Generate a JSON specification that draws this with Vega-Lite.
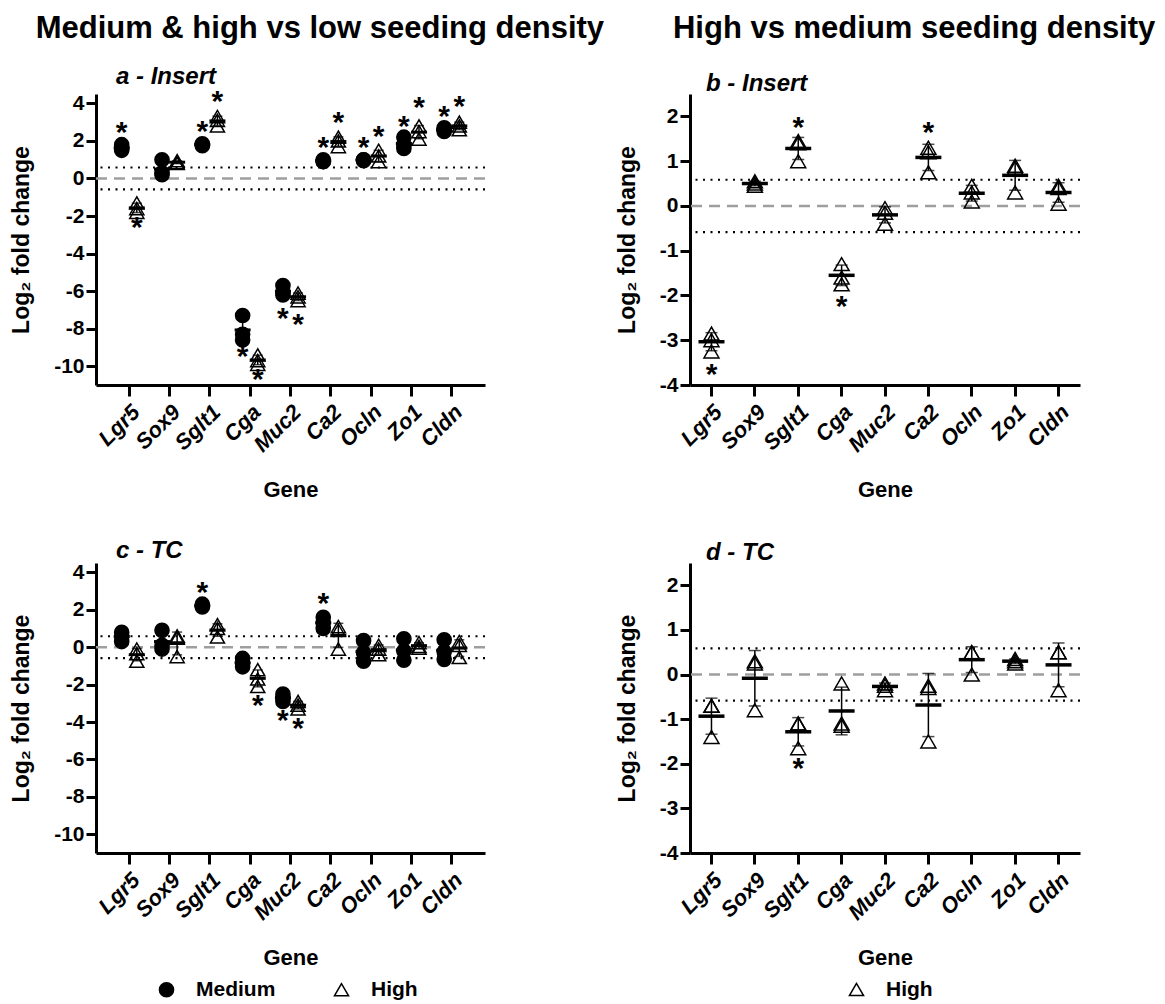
{
  "$schema": "https://vega.github.io/schema/vega-lite/v6.json",
  "padding": {"left": 10, "top": 12, "right": 5, "bottom": 5},
  "background": "white",
  "title": {"text": "Medium & high vs low seeding density\u00a0\u00a0\u00a0\u00a0\u00a0\u00a0\u00a0\u00a0High vs medium seeding density", "fontSize": 31, "fontWeight": "bold", "anchor": "start", "frame": "bounds", "dx": 25, "offset": 20, "color": "black"},
  "config": {
    "font": "Liberation Sans",
    "view": {"stroke": null},
    "axis": {
      "grid": false,
      "domainColor": "black",
      "domainWidth": 3,
      "tickColor": "black",
      "tickWidth": 3,
      "tickSize": 10,
      "labelFont": "Liberation Sans",
      "labelFontSize": 21,
      "labelFontWeight": "bold",
      "labelColor": "black",
      "titleFont": "Liberation Sans",
      "titleFontSize": 23,
      "titleFontWeight": "bold",
      "titleColor": "black",
      "labelExpr": "replace(datum.label, '−', '-')"
    },
    "axisX": {"labelAngle": -45, "labelFontStyle": "italic", "labelFontSize": 22, "tickSize": 11, "labelPadding": 5, "titlePadding": 24, "titleFontSize": 22},
    "axisY": {"titlePadding": 20, "labelPadding": 2},
    "legend": {
      "orient": "none",
      "direction": "horizontal",
      "labelFontSize": 21,
      "labelFontWeight": "bold",
      "labelColor": "black",
      "labelFont": "Liberation Sans",
      "symbolSize": 200,
      "symbolStrokeColor": "black",
      "symbolStrokeWidth": 1.5,
      "columnPadding": 55,
      "labelOffset": 19
    },
    "title": {"color": "black", "font": "Liberation Sans"}
  },
  "datasets": {
    "pts": [
      {"p":"a","gene":"Lgr5","group":"Medium","v":1.8},{"p":"a","gene":"Lgr5","group":"Medium","v":1.6},{"p":"a","gene":"Lgr5","group":"Medium","v":1.5},
      {"p":"a","gene":"Lgr5","group":"High","v":-1.3},{"p":"a","gene":"Lgr5","group":"High","v":-1.6},{"p":"a","gene":"Lgr5","group":"High","v":-1.8},
      {"p":"a","gene":"Sox9","group":"Medium","v":1.0},{"p":"a","gene":"Sox9","group":"Medium","v":0.3},{"p":"a","gene":"Sox9","group":"Medium","v":0.2},
      {"p":"a","gene":"Sox9","group":"High","v":0.95},{"p":"a","gene":"Sox9","group":"High","v":0.85},{"p":"a","gene":"Sox9","group":"High","v":0.8},
      {"p":"a","gene":"Sglt1","group":"Medium","v":1.85},{"p":"a","gene":"Sglt1","group":"Medium","v":1.8},{"p":"a","gene":"Sglt1","group":"Medium","v":1.75},
      {"p":"a","gene":"Sglt1","group":"High","v":3.3},{"p":"a","gene":"Sglt1","group":"High","v":3.1},{"p":"a","gene":"Sglt1","group":"High","v":2.8},
      {"p":"a","gene":"Cga","group":"Medium","v":-7.3},{"p":"a","gene":"Cga","group":"Medium","v":-8.3},{"p":"a","gene":"Cga","group":"Medium","v":-8.6},
      {"p":"a","gene":"Cga","group":"High","v":-9.4},{"p":"a","gene":"Cga","group":"High","v":-9.7},{"p":"a","gene":"Cga","group":"High","v":-9.9},
      {"p":"a","gene":"Muc2","group":"Medium","v":-5.7},{"p":"a","gene":"Muc2","group":"Medium","v":-6.1},{"p":"a","gene":"Muc2","group":"Medium","v":-6.2},
      {"p":"a","gene":"Muc2","group":"High","v":-6.1},{"p":"a","gene":"Muc2","group":"High","v":-6.3},{"p":"a","gene":"Muc2","group":"High","v":-6.5},
      {"p":"a","gene":"Ca2","group":"Medium","v":1.0},{"p":"a","gene":"Ca2","group":"Medium","v":0.9},{"p":"a","gene":"Ca2","group":"Medium","v":0.9},
      {"p":"a","gene":"Ca2","group":"High","v":2.2},{"p":"a","gene":"Ca2","group":"High","v":2.0},{"p":"a","gene":"Ca2","group":"High","v":1.7},
      {"p":"a","gene":"Ocln","group":"Medium","v":1.0},{"p":"a","gene":"Ocln","group":"Medium","v":1.0},{"p":"a","gene":"Ocln","group":"Medium","v":0.95},
      {"p":"a","gene":"Ocln","group":"High","v":1.5},{"p":"a","gene":"Ocln","group":"High","v":1.2},{"p":"a","gene":"Ocln","group":"High","v":0.9},
      {"p":"a","gene":"Zo1","group":"Medium","v":2.2},{"p":"a","gene":"Zo1","group":"Medium","v":1.8},{"p":"a","gene":"Zo1","group":"Medium","v":1.6},
      {"p":"a","gene":"Zo1","group":"High","v":2.8},{"p":"a","gene":"Zo1","group":"High","v":2.5},{"p":"a","gene":"Zo1","group":"High","v":2.1},
      {"p":"a","gene":"Cldn","group":"Medium","v":2.7},{"p":"a","gene":"Cldn","group":"Medium","v":2.6},{"p":"a","gene":"Cldn","group":"Medium","v":2.5},
      {"p":"a","gene":"Cldn","group":"High","v":3.0},{"p":"a","gene":"Cldn","group":"High","v":2.8},{"p":"a","gene":"Cldn","group":"High","v":2.6},

      {"p":"b","gene":"Lgr5","group":"High","v":-2.85},{"p":"b","gene":"Lgr5","group":"High","v":-3.0},{"p":"b","gene":"Lgr5","group":"High","v":-3.25},
      {"p":"b","gene":"Sox9","group":"High","v":0.45},{"p":"b","gene":"Sox9","group":"High","v":0.55},{"p":"b","gene":"Sox9","group":"High","v":0.5},
      {"p":"b","gene":"Sglt1","group":"High","v":1.4},{"p":"b","gene":"Sglt1","group":"High","v":1.45},{"p":"b","gene":"Sglt1","group":"High","v":1.0},
      {"p":"b","gene":"Cga","group":"High","v":-1.3},{"p":"b","gene":"Cga","group":"High","v":-1.6},{"p":"b","gene":"Cga","group":"High","v":-1.75},
      {"p":"b","gene":"Muc2","group":"High","v":-0.05},{"p":"b","gene":"Muc2","group":"High","v":-0.15},{"p":"b","gene":"Muc2","group":"High","v":-0.4},
      {"p":"b","gene":"Ca2","group":"High","v":1.3},{"p":"b","gene":"Ca2","group":"High","v":1.2},{"p":"b","gene":"Ca2","group":"High","v":0.75},
      {"p":"b","gene":"Ocln","group":"High","v":0.45},{"p":"b","gene":"Ocln","group":"High","v":0.3},{"p":"b","gene":"Ocln","group":"High","v":0.1},
      {"p":"b","gene":"Zo1","group":"High","v":0.85},{"p":"b","gene":"Zo1","group":"High","v":0.9},{"p":"b","gene":"Zo1","group":"High","v":0.3},
      {"p":"b","gene":"Cldn","group":"High","v":0.4},{"p":"b","gene":"Cldn","group":"High","v":0.45},{"p":"b","gene":"Cldn","group":"High","v":0.05},

      {"p":"c","gene":"Lgr5","group":"Medium","v":0.8},{"p":"c","gene":"Lgr5","group":"Medium","v":0.6},{"p":"c","gene":"Lgr5","group":"Medium","v":0.3},
      {"p":"c","gene":"Lgr5","group":"High","v":-0.1},{"p":"c","gene":"Lgr5","group":"High","v":-0.35},{"p":"c","gene":"Lgr5","group":"High","v":-0.75},
      {"p":"c","gene":"Sox9","group":"Medium","v":0.9},{"p":"c","gene":"Sox9","group":"Medium","v":0.1},{"p":"c","gene":"Sox9","group":"Medium","v":-0.1},
      {"p":"c","gene":"Sox9","group":"High","v":0.6},{"p":"c","gene":"Sox9","group":"High","v":0.5},{"p":"c","gene":"Sox9","group":"High","v":-0.5},
      {"p":"c","gene":"Sglt1","group":"Medium","v":2.3},{"p":"c","gene":"Sglt1","group":"Medium","v":2.2},{"p":"c","gene":"Sglt1","group":"Medium","v":2.15},
      {"p":"c","gene":"Sglt1","group":"High","v":1.2},{"p":"c","gene":"Sglt1","group":"High","v":1.0},{"p":"c","gene":"Sglt1","group":"High","v":0.55},
      {"p":"c","gene":"Cga","group":"Medium","v":-0.6},{"p":"c","gene":"Cga","group":"Medium","v":-0.85},{"p":"c","gene":"Cga","group":"Medium","v":-1.05},
      {"p":"c","gene":"Cga","group":"High","v":-1.2},{"p":"c","gene":"Cga","group":"High","v":-1.7},{"p":"c","gene":"Cga","group":"High","v":-2.1},
      {"p":"c","gene":"Muc2","group":"Medium","v":-2.5},{"p":"c","gene":"Muc2","group":"Medium","v":-2.7},{"p":"c","gene":"Muc2","group":"Medium","v":-2.9},
      {"p":"c","gene":"Muc2","group":"High","v":-2.9},{"p":"c","gene":"Muc2","group":"High","v":-3.1},{"p":"c","gene":"Muc2","group":"High","v":-3.3},
      {"p":"c","gene":"Ca2","group":"Medium","v":1.6},{"p":"c","gene":"Ca2","group":"Medium","v":1.3},{"p":"c","gene":"Ca2","group":"Medium","v":1.0},
      {"p":"c","gene":"Ca2","group":"High","v":1.1},{"p":"c","gene":"Ca2","group":"High","v":0.9},{"p":"c","gene":"Ca2","group":"High","v":-0.1},
      {"p":"c","gene":"Ocln","group":"Medium","v":0.35},{"p":"c","gene":"Ocln","group":"Medium","v":-0.3},{"p":"c","gene":"Ocln","group":"Medium","v":-0.75},
      {"p":"c","gene":"Ocln","group":"High","v":0.1},{"p":"c","gene":"Ocln","group":"High","v":-0.1},{"p":"c","gene":"Ocln","group":"High","v":-0.4},
      {"p":"c","gene":"Zo1","group":"Medium","v":0.45},{"p":"c","gene":"Zo1","group":"Medium","v":-0.2},{"p":"c","gene":"Zo1","group":"Medium","v":-0.7},
      {"p":"c","gene":"Zo1","group":"High","v":0.25},{"p":"c","gene":"Zo1","group":"High","v":0.05},{"p":"c","gene":"Zo1","group":"High","v":-0.05},
      {"p":"c","gene":"Cldn","group":"Medium","v":0.4},{"p":"c","gene":"Cldn","group":"Medium","v":-0.25},{"p":"c","gene":"Cldn","group":"Medium","v":-0.65},
      {"p":"c","gene":"Cldn","group":"High","v":0.3},{"p":"c","gene":"Cldn","group":"High","v":0.1},{"p":"c","gene":"Cldn","group":"High","v":-0.55},

      {"p":"d","gene":"Lgr5","group":"High","v":-0.7},{"p":"d","gene":"Lgr5","group":"High","v":-0.7},{"p":"d","gene":"Lgr5","group":"High","v":-1.4},
      {"p":"d","gene":"Sox9","group":"High","v":0.3},{"p":"d","gene":"Sox9","group":"High","v":0.25},{"p":"d","gene":"Sox9","group":"High","v":-0.8},
      {"p":"d","gene":"Sglt1","group":"High","v":-1.1},{"p":"d","gene":"Sglt1","group":"High","v":-1.1},{"p":"d","gene":"Sglt1","group":"High","v":-1.65},
      {"p":"d","gene":"Cga","group":"High","v":-0.2},{"p":"d","gene":"Cga","group":"High","v":-1.1},{"p":"d","gene":"Cga","group":"High","v":-1.15},
      {"p":"d","gene":"Muc2","group":"High","v":-0.2},{"p":"d","gene":"Muc2","group":"High","v":-0.25},{"p":"d","gene":"Muc2","group":"High","v":-0.35},
      {"p":"d","gene":"Ca2","group":"High","v":-0.25},{"p":"d","gene":"Ca2","group":"High","v":-0.3},{"p":"d","gene":"Ca2","group":"High","v":-1.5},
      {"p":"d","gene":"Ocln","group":"High","v":0.5},{"p":"d","gene":"Ocln","group":"High","v":0.5},{"p":"d","gene":"Ocln","group":"High","v":0.0},
      {"p":"d","gene":"Zo1","group":"High","v":0.35},{"p":"d","gene":"Zo1","group":"High","v":0.3},{"p":"d","gene":"Zo1","group":"High","v":0.25},
      {"p":"d","gene":"Cldn","group":"High","v":0.5},{"p":"d","gene":"Cldn","group":"High","v":0.5},{"p":"d","gene":"Cldn","group":"High","v":-0.35}
    ],
    "stars": [
      {"p":"a","gene":"Lgr5","group":"Medium","y":2.56},{"p":"a","gene":"Lgr5","group":"High","y":-2.5},
      {"p":"a","gene":"Sglt1","group":"Medium","y":2.65},{"p":"a","gene":"Sglt1","group":"High","y":4.25},
      {"p":"a","gene":"Cga","group":"Medium","y":-9.35},{"p":"a","gene":"Cga","group":"High","y":-10.6},
      {"p":"a","gene":"Muc2","group":"Medium","y":-7.3},{"p":"a","gene":"Muc2","group":"High","y":-7.66},
      {"p":"a","gene":"Ca2","group":"Medium","y":1.76},{"p":"a","gene":"Ca2","group":"High","y":3.1},
      {"p":"a","gene":"Ocln","group":"Medium","y":1.76},{"p":"a","gene":"Ocln","group":"High","y":2.38},
      {"p":"a","gene":"Zo1","group":"Medium","y":2.9},{"p":"a","gene":"Zo1","group":"High","y":3.9},
      {"p":"a","gene":"Cldn","group":"Medium","y":3.45},{"p":"a","gene":"Cldn","group":"High","y":3.98},
      {"p":"b","gene":"Lgr5","group":"High","y":-3.72},{"p":"b","gene":"Sglt1","group":"High","y":1.81},
      {"p":"b","gene":"Cga","group":"High","y":-2.18},{"p":"b","gene":"Ca2","group":"High","y":1.7},
      {"p":"c","gene":"Sglt1","group":"Medium","y":3.08},{"p":"c","gene":"Cga","group":"High","y":-2.97},
      {"p":"c","gene":"Muc2","group":"Medium","y":-3.77},{"p":"c","gene":"Muc2","group":"High","y":-4.2},
      {"p":"c","gene":"Ca2","group":"Medium","y":2.45},
      {"p":"d","gene":"Sglt1","group":"High","y":-2.06}
    ]
  },
  "columns": 2,
  "bounds": "flush",
  "spacing": {"row": 178, "column": 205},
  "resolve": {
    "scale": {"x": "independent", "y": "independent", "xOffset": "independent", "shape": "independent", "fill": "independent", "stroke": "independent"},
    "axis": {"x": "independent", "y": "independent"},
    "legend": {"shape": "independent", "fill": "independent", "stroke": "independent"}
  },
  "concat": [
    {
      "title": {"text": "a - Insert", "fontSize": 24, "fontWeight": "bold", "fontStyle": "italic", "anchor": "start", "frame": "group", "dx": 20, "offset": -2},
      "width": 389, "height": 291,
      "layer": [
        {"data": {"values": [{}]}, "mark": {"type": "rule", "color": "#9e9e9e", "strokeDash": [11, 7], "strokeWidth": 2.5}, "encoding": {"y": {"datum": 0, "type": "quantitative", "title": "Log₂ fold change"}}},
        {"data": {"values": [{}]}, "mark": {"type": "rule", "color": "black", "strokeDash": [2, 5.5], "strokeWidth": 2.2}, "encoding": {"y": {"datum": 0.585, "type": "quantitative", "title": "Log₂ fold change"}}},
        {"data": {"values": [{}]}, "mark": {"type": "rule", "color": "black", "strokeDash": [2, 5.5], "strokeWidth": 2.2}, "encoding": {"y": {"datum": -0.585, "type": "quantitative", "title": "Log₂ fold change"}}},
        {"data": {"name": "pts"}, "transform": [{"filter": "datum.p === 'a'"}],
         "mark": {"type": "errorbar", "extent": "stdev", "color": "black", "thickness": 1.5, "ticks": {"size": 10}},
         "encoding": {"x": {"field": "gene", "type": "nominal", "title": "Gene"}, "xOffset": {"field": "group", "scale": {"domain": ["Medium", "High"]}}, "y": {"field": "v", "type": "quantitative", "title": "Log₂ fold change"}}},
        {"data": {"name": "pts"}, "transform": [{"filter": "datum.p === 'a'"}],
         "mark": {"type": "tick", "color": "black", "thickness": 3, "size": 16, "opacity": 1},
         "encoding": {"x": {"field": "gene", "type": "nominal", "title": "Gene"}, "xOffset": {"field": "group", "scale": {"domain": ["Medium", "High"]}}, "y": {"aggregate": "mean", "field": "v", "type": "quantitative", "title": "Log₂ fold change"}}},
        {"data": {"name": "pts"}, "transform": [{"filter": "datum.p === 'a'"}],
         "mark": {"type": "point", "filled": true, "stroke": "black", "strokeWidth": 1.5, "opacity": 1, "size": 200},
         "encoding": {
           "x": {"field": "gene", "type": "nominal", "title": "Gene", "scale": {"domain": ["Lgr5","Sox9","Sglt1","Cga","Muc2","Ca2","Ocln","Zo1","Cldn"], "paddingInner": 0.25, "paddingOuter": 0.45}},
           "xOffset": {"field": "group", "scale": {"domain": ["Medium", "High"]}},
           "y": {"field": "v", "type": "quantitative", "title": "Log₂ fold change", "scale": {"domain": [-11, 4.5], "nice": false, "zero": false}, "axis": {"values": [-10, -8, -6, -4, -2, 0, 2, 4]}},
           "shape": {"field": "group", "type": "nominal", "scale": {"domain": ["Medium", "High"], "range": ["circle", "triangle-up"]}, "legend": null},
           "fill": {"field": "group", "type": "nominal", "scale": {"domain": ["Medium", "High"], "range": ["black", "transparent"]}, "legend": null}
         }},
        {"data": {"name": "stars"}, "transform": [{"filter": "datum.p === 'a'"}],
         "mark": {"type": "text", "text": "*", "fontSize": 30, "fontWeight": "bold", "color": "black", "baseline": "alphabetic", "dy": 12},
         "encoding": {"x": {"field": "gene", "type": "nominal", "title": "Gene"}, "xOffset": {"field": "group", "scale": {"domain": ["Medium", "High"]}}, "y": {"field": "y", "type": "quantitative", "title": "Log₂ fold change"}}}
      ]
    },
    {
      "title": {"text": "b - Insert", "fontSize": 24, "fontWeight": "bold", "fontStyle": "italic", "anchor": "start", "frame": "group", "dx": 16, "offset": -2},
      "width": 390, "height": 291,
      "layer": [
        {"data": {"values": [{}]}, "mark": {"type": "rule", "color": "#9e9e9e", "strokeDash": [11, 7], "strokeWidth": 2.5}, "encoding": {"y": {"datum": 0, "type": "quantitative", "title": "Log₂ fold change"}}},
        {"data": {"values": [{}]}, "mark": {"type": "rule", "color": "black", "strokeDash": [2, 5.5], "strokeWidth": 2.2}, "encoding": {"y": {"datum": 0.585, "type": "quantitative", "title": "Log₂ fold change"}}},
        {"data": {"values": [{}]}, "mark": {"type": "rule", "color": "black", "strokeDash": [2, 5.5], "strokeWidth": 2.2}, "encoding": {"y": {"datum": -0.585, "type": "quantitative", "title": "Log₂ fold change"}}},
        {"data": {"name": "pts"}, "transform": [{"filter": "datum.p === 'b'"}],
         "mark": {"type": "errorbar", "extent": "stdev", "color": "black", "thickness": 1.5, "ticks": {"size": 12}},
         "encoding": {"x": {"field": "gene", "type": "nominal", "title": "Gene"}, "y": {"field": "v", "type": "quantitative", "title": "Log₂ fold change"}}},
        {"data": {"name": "pts"}, "transform": [{"filter": "datum.p === 'b'"}],
         "mark": {"type": "tick", "color": "black", "thickness": 3.5, "size": 26, "opacity": 1},
         "encoding": {"x": {"field": "gene", "type": "nominal", "title": "Gene"}, "y": {"aggregate": "mean", "field": "v", "type": "quantitative", "title": "Log₂ fold change"}}},
        {"data": {"name": "pts"}, "transform": [{"filter": "datum.p === 'b'"}],
         "mark": {"type": "point", "filled": true, "stroke": "black", "strokeWidth": 1.5, "opacity": 1, "size": 225},
         "encoding": {
           "x": {"field": "gene", "type": "nominal", "title": "Gene", "scale": {"domain": ["Lgr5","Sox9","Sglt1","Cga","Muc2","Ca2","Ocln","Zo1","Cldn"], "paddingInner": 0.25, "paddingOuter": 0.12}},
           "y": {"field": "v", "type": "quantitative", "title": "Log₂ fold change", "scale": {"domain": [-4, 2.5], "nice": false, "zero": false}, "axis": {"values": [-4, -3, -2, -1, 0, 1, 2]}},
           "shape": {"field": "group", "type": "nominal", "scale": {"domain": ["High"], "range": ["triangle-up"]}, "legend": null},
           "fill": {"field": "group", "type": "nominal", "scale": {"domain": ["High"], "range": ["transparent"]}, "legend": null}
         }},
        {"data": {"name": "stars"}, "transform": [{"filter": "datum.p === 'b'"}],
         "mark": {"type": "text", "text": "*", "fontSize": 30, "fontWeight": "bold", "color": "black", "baseline": "alphabetic", "dy": 12},
         "encoding": {"x": {"field": "gene", "type": "nominal", "title": "Gene"}, "y": {"field": "y", "type": "quantitative", "title": "Log₂ fold change"}}}
      ]
    },
    {
      "title": {"text": "c - TC", "fontSize": 24, "fontWeight": "bold", "fontStyle": "italic", "anchor": "start", "frame": "group", "dx": 20, "offset": -2},
      "width": 389, "height": 290,
      "layer": [
        {"data": {"values": [{}]}, "mark": {"type": "rule", "color": "#9e9e9e", "strokeDash": [11, 7], "strokeWidth": 2.5}, "encoding": {"y": {"datum": 0, "type": "quantitative", "title": "Log₂ fold change"}}},
        {"data": {"values": [{}]}, "mark": {"type": "rule", "color": "black", "strokeDash": [2, 5.5], "strokeWidth": 2.2}, "encoding": {"y": {"datum": 0.585, "type": "quantitative", "title": "Log₂ fold change"}}},
        {"data": {"values": [{}]}, "mark": {"type": "rule", "color": "black", "strokeDash": [2, 5.5], "strokeWidth": 2.2}, "encoding": {"y": {"datum": -0.585, "type": "quantitative", "title": "Log₂ fold change"}}},
        {"data": {"name": "pts"}, "transform": [{"filter": "datum.p === 'c'"}],
         "mark": {"type": "errorbar", "extent": "stdev", "color": "black", "thickness": 1.5, "ticks": {"size": 10}},
         "encoding": {"x": {"field": "gene", "type": "nominal", "title": "Gene"}, "xOffset": {"field": "group", "scale": {"domain": ["Medium", "High"]}}, "y": {"field": "v", "type": "quantitative", "title": "Log₂ fold change"}}},
        {"data": {"name": "pts"}, "transform": [{"filter": "datum.p === 'c'"}],
         "mark": {"type": "tick", "color": "black", "thickness": 3, "size": 16, "opacity": 1},
         "encoding": {"x": {"field": "gene", "type": "nominal", "title": "Gene"}, "xOffset": {"field": "group", "scale": {"domain": ["Medium", "High"]}}, "y": {"aggregate": "mean", "field": "v", "type": "quantitative", "title": "Log₂ fold change"}}},
        {"data": {"name": "pts"}, "transform": [{"filter": "datum.p === 'c'"}],
         "mark": {"type": "point", "filled": true, "strokeWidth": 1.5, "opacity": 1, "size": 200},
         "encoding": {
           "x": {"field": "gene", "type": "nominal", "title": "Gene", "scale": {"domain": ["Lgr5","Sox9","Sglt1","Cga","Muc2","Ca2","Ocln","Zo1","Cldn"], "paddingInner": 0.25, "paddingOuter": 0.45}},
           "xOffset": {"field": "group", "scale": {"domain": ["Medium", "High"]}},
           "y": {"field": "v", "type": "quantitative", "title": "Log₂ fold change", "scale": {"domain": [-11, 4.5], "nice": false, "zero": false}, "axis": {"values": [-10, -8, -6, -4, -2, 0, 2, 4]}},
           "shape": {"field": "group", "type": "nominal", "scale": {"domain": ["Medium", "High"], "range": ["circle", "triangle-up"]}, "legend": {"title": null, "legendX": 60, "legendY": 416}},
           "fill": {"field": "group", "type": "nominal", "scale": {"domain": ["Medium", "High"], "range": ["black", "transparent"]}, "legend": {"title": null, "legendX": 60, "legendY": 416}},
           "stroke": {"field": "group", "type": "nominal", "scale": {"domain": ["Medium", "High"], "range": ["black", "black"]}, "legend": {"title": null, "legendX": 60, "legendY": 416}}
         }},
        {"data": {"name": "stars"}, "transform": [{"filter": "datum.p === 'c'"}],
         "mark": {"type": "text", "text": "*", "fontSize": 30, "fontWeight": "bold", "color": "black", "baseline": "alphabetic", "dy": 12},
         "encoding": {"x": {"field": "gene", "type": "nominal", "title": "Gene"}, "xOffset": {"field": "group", "scale": {"domain": ["Medium", "High"]}}, "y": {"field": "y", "type": "quantitative", "title": "Log₂ fold change"}}}
      ]
    },
    {
      "title": {"text": "d - TC", "fontSize": 24, "fontWeight": "bold", "fontStyle": "italic", "anchor": "start", "frame": "group", "dx": 16, "offset": -2},
      "width": 390, "height": 290,
      "layer": [
        {"data": {"values": [{}]}, "mark": {"type": "rule", "color": "#9e9e9e", "strokeDash": [11, 7], "strokeWidth": 2.5}, "encoding": {"y": {"datum": 0, "type": "quantitative", "title": "Log₂ fold change"}}},
        {"data": {"values": [{}]}, "mark": {"type": "rule", "color": "black", "strokeDash": [2, 5.5], "strokeWidth": 2.2}, "encoding": {"y": {"datum": 0.585, "type": "quantitative", "title": "Log₂ fold change"}}},
        {"data": {"values": [{}]}, "mark": {"type": "rule", "color": "black", "strokeDash": [2, 5.5], "strokeWidth": 2.2}, "encoding": {"y": {"datum": -0.585, "type": "quantitative", "title": "Log₂ fold change"}}},
        {"data": {"name": "pts"}, "transform": [{"filter": "datum.p === 'd'"}],
         "mark": {"type": "errorbar", "extent": "stdev", "color": "black", "thickness": 1.5, "ticks": {"size": 12}},
         "encoding": {"x": {"field": "gene", "type": "nominal", "title": "Gene"}, "y": {"field": "v", "type": "quantitative", "title": "Log₂ fold change"}}},
        {"data": {"name": "pts"}, "transform": [{"filter": "datum.p === 'd'"}],
         "mark": {"type": "tick", "color": "black", "thickness": 3.5, "size": 26, "opacity": 1},
         "encoding": {"x": {"field": "gene", "type": "nominal", "title": "Gene"}, "y": {"aggregate": "mean", "field": "v", "type": "quantitative", "title": "Log₂ fold change"}}},
        {"data": {"name": "pts"}, "transform": [{"filter": "datum.p === 'd'"}],
         "mark": {"type": "point", "filled": true, "strokeWidth": 1.5, "opacity": 1, "size": 225},
         "encoding": {
           "x": {"field": "gene", "type": "nominal", "title": "Gene", "scale": {"domain": ["Lgr5","Sox9","Sglt1","Cga","Muc2","Ca2","Ocln","Zo1","Cldn"], "paddingInner": 0.25, "paddingOuter": 0.12}},
           "y": {"field": "v", "type": "quantitative", "title": "Log₂ fold change", "scale": {"domain": [-4, 2.5], "nice": false, "zero": false}, "axis": {"values": [-4, -3, -2, -1, 0, 1, 2]}},
           "shape": {"field": "group", "type": "nominal", "scale": {"domain": ["High"], "range": ["triangle-up"]}, "legend": {"title": null, "legendX": 156, "legendY": 416}},
           "fill": {"field": "group", "type": "nominal", "scale": {"domain": ["High"], "range": ["transparent"]}, "legend": {"title": null, "legendX": 156, "legendY": 416}},
           "stroke": {"field": "group", "type": "nominal", "scale": {"domain": ["High"], "range": ["black"]}, "legend": {"title": null, "legendX": 156, "legendY": 416}}
         }},
        {"data": {"name": "stars"}, "transform": [{"filter": "datum.p === 'd'"}],
         "mark": {"type": "text", "text": "*", "fontSize": 30, "fontWeight": "bold", "color": "black", "baseline": "alphabetic", "dy": 12},
         "encoding": {"x": {"field": "gene", "type": "nominal", "title": "Gene"}, "y": {"field": "y", "type": "quantitative", "title": "Log₂ fold change"}}}
      ]
    }
  ]
}
